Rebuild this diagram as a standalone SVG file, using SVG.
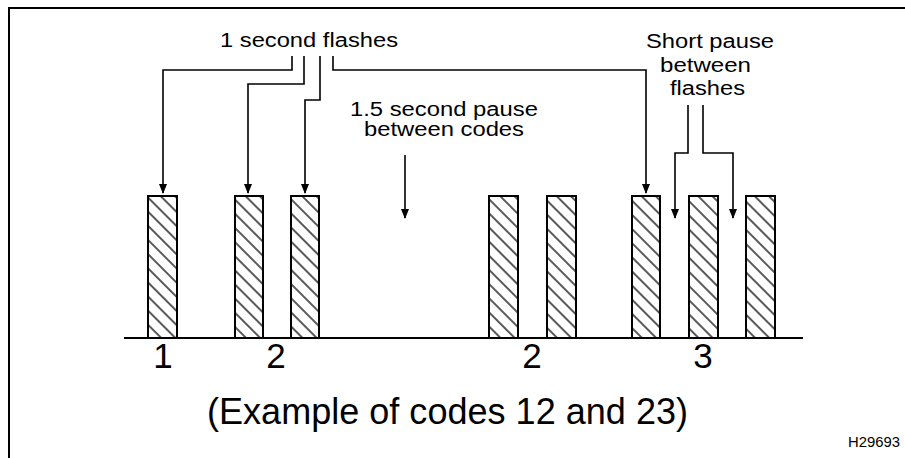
<svg xmlns="http://www.w3.org/2000/svg" width="905" height="458" viewBox="0 0 905 458">
  <style>
    .frame { fill: none; stroke: #000; stroke-width: 2; }
    .bar { fill: url(#hatch); stroke: #000; stroke-width: 2; }
    .conn { fill: none; stroke: #000; stroke-width: 1.6; }
    .lbl { font-family: "Liberation Sans", Arial, Helvetica, sans-serif; font-size: 20px; fill: #000; }
    .digit { font-family: "Liberation Sans", Arial, Helvetica, sans-serif; font-size: 35px; fill: #000; text-anchor: middle; }
    .caption { font-family: "Liberation Sans", Arial, Helvetica, sans-serif; font-size: 36px; fill: #000; }
    .ref { font-family: "Liberation Sans", Arial, Helvetica, sans-serif; font-size: 15px; fill: #000; }
  </style>
  <defs>
    <!-- diagonal hatching for the flash bars -->
    <pattern id="hatch" patternUnits="userSpaceOnUse" width="10" height="10" patternTransform="rotate(45)">
      <rect width="10" height="10" fill="#fff"/>
      <line x1="0" y1="5" x2="10" y2="5" stroke="#000" stroke-width="1.3"/>
    </pattern>
    <marker id="arrow" markerUnits="userSpaceOnUse" markerWidth="10" markerHeight="12" refX="9" refY="4" orient="auto">
      <path d="M0,0 L10,4 L0,8 Z" fill="#000"/>
    </marker>
  </defs>

  <!-- page frame -->
  <g id="frame">
    <line class="frame" x1="8" y1="8" x2="905" y2="8"/>
    <line class="frame" x1="9" y1="8" x2="9" y2="458"/>
  </g>

  <!-- time axis -->
  <g id="axis">
    <line x1="124" y1="338" x2="803" y2="338" stroke="#000" stroke-width="2"/>
  </g>

  <!-- flashes of code 12 -->
  <g id="flash1"><rect class="bar" x="148" y="196" width="29" height="142"/></g>
  <g id="flash2"><rect class="bar" x="235" y="196" width="28" height="142"/></g>
  <g id="flash3"><rect class="bar" x="291" y="196" width="28" height="142"/></g>
  <!-- flashes of code 23 -->
  <g id="flash4"><rect class="bar" x="489" y="196" width="29" height="142"/></g>
  <g id="flash5"><rect class="bar" x="547" y="196" width="29" height="142"/></g>
  <g id="flash6"><rect class="bar" x="632" y="196" width="28" height="142"/></g>
  <g id="flash7"><rect class="bar" x="689" y="196" width="29" height="142"/></g>
  <g id="flash8"><rect class="bar" x="746" y="196" width="29" height="142"/></g>

  <!-- callout leaders -->
  <g id="connectors">
    <path class="conn" d="M292,56 V70 H163 V193" marker-end="url(#arrow)"/>
    <path class="conn" d="M304,56 V84 H248 V193" marker-end="url(#arrow)"/>
    <path class="conn" d="M320,56 V100 H305 V193" marker-end="url(#arrow)"/>
    <path class="conn" d="M333,56 V70 H646 V193" marker-end="url(#arrow)"/>
    <path class="conn" d="M405,155 V218" marker-end="url(#arrow)"/>
    <path class="conn" d="M688,105 V153 H675 V218" marker-end="url(#arrow)"/>
    <path class="conn" d="M703,105 V153 H733 V218" marker-end="url(#arrow)"/>
  </g>

  <!-- labels -->
  <g id="label-flashes">
    <text class="lbl" x="220" y="47" textLength="178" lengthAdjust="spacingAndGlyphs">1 second flashes</text>
  </g>
  <g id="label-pause">
    <text class="lbl" x="350" y="116" textLength="188" lengthAdjust="spacingAndGlyphs">1.5 second pause</text>
    <text class="lbl" x="364" y="136" textLength="160" lengthAdjust="spacingAndGlyphs">between codes</text>
  </g>
  <g id="label-short">
    <text class="lbl" x="646" y="48" textLength="128" lengthAdjust="spacingAndGlyphs">Short pause</text>
    <text class="lbl" x="660" y="72" textLength="91" lengthAdjust="spacingAndGlyphs">between</text>
    <text class="lbl" x="670" y="95" textLength="75" lengthAdjust="spacingAndGlyphs">flashes</text>
  </g>

  <!-- code digits -->
  <g id="digits">
    <text class="digit" x="163" y="368">1</text>
    <text class="digit" x="276" y="368">2</text>
    <text class="digit" x="532" y="368">2</text>
    <text class="digit" x="703" y="368">3</text>
  </g>

  <g id="caption">
    <text class="caption" x="207" y="424" textLength="481" lengthAdjust="spacingAndGlyphs">(Example of codes 12 and 23)</text>
  </g>
  <g id="ref">
    <text class="ref" x="848" y="447" textLength="52" lengthAdjust="spacingAndGlyphs">H29693</text>
  </g>
</svg>
